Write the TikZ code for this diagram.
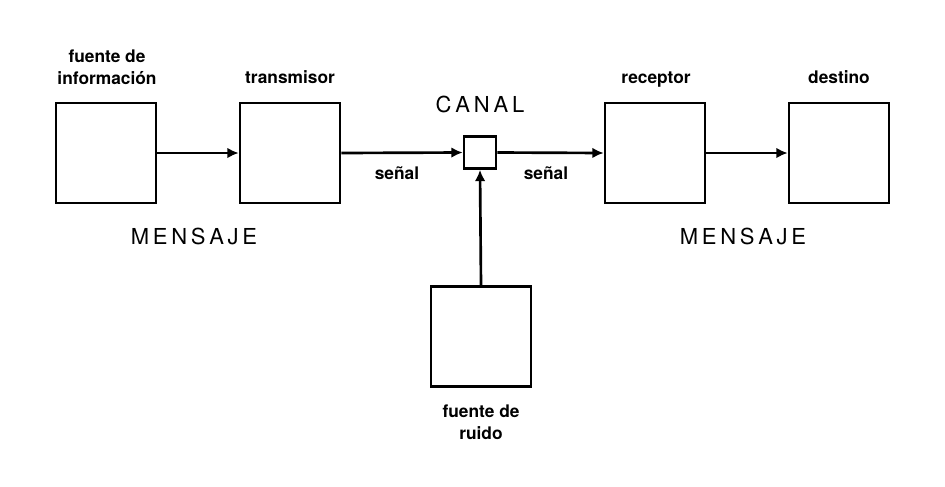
\documentclass[tikz,border=0pt]{standalone}
\usepackage{fontspec}
\setmainfont{TeX Gyre Heros}
\usetikzlibrary{arrows.meta}
\begin{document}
\begin{tikzpicture}[x=0.75pt,y=-0.75pt,
  box/.style={draw,line width=2pt,minimum size=75pt,inner sep=0pt},
  smallbox/.style={draw,line width=2pt,minimum size=24pt,inner sep=0pt},
  lbl/.style={font=\fontsize{13pt}{16.5pt}\selectfont\bfseries,align=center,inner sep=0pt},
  big/.style={font=\fontsize{16.5pt}{20pt}\selectfont,inner sep=0pt,anchor=base},
  conn/.style={line width=2pt,-{Latex[length=8.5pt,width=8pt]}}]
\useasboundingbox (0,0) rectangle (945,486);
\node[box] (fuente) at (106,153) {};
\node[box] (trans) at (290,153) {};
\node[smallbox] (canal) at (480,152.5) {};
\node[box] (recep) at (655,153) {};
\node[box] (dest) at (839,153) {};
\node[box] (ruido) at (481,336.5) {};
\node[lbl] (tfuente) at (107,67) {fuente de\\información};
\node[lbl,anchor=base] (ttrans) at (290,83) {transmisor};
\node[lbl,anchor=base] (trecep) at (656,83) {receptor};
\node[lbl,anchor=base] (tdest) at (839,83) {destino};
\node[lbl] (truido) at (481,422) {fuente de\\ruido};
\node[lbl,anchor=base] (s1) at (397,179) {señal};
\node[lbl,anchor=base] (s2) at (546,179) {señal};
\node[big] (tcanal) at (480,112) {C\kern2.9pt A\kern2.9pt N\kern2.9pt A\kern2.9pt L};
\node[big] (m1) at (194,244) {M\kern2.8pt E\kern2.8pt N\kern2.8pt S\kern2.8pt A\kern2.8pt J\kern2.8pt E};
\node[big] (m2) at (743,244) {M\kern2.8pt E\kern2.8pt N\kern2.8pt S\kern2.8pt A\kern2.8pt J\kern2.8pt E};
\draw[conn] (fuente.east) -- (trans.west);
\draw[conn] (trans.east) -- (canal.west);
\draw[conn] (canal.east) -- (recep.west);
\draw[conn] (recep.east) -- (dest.west);
\draw[conn] (ruido.north) -- (canal.south);
\end{tikzpicture}
\end{document}
